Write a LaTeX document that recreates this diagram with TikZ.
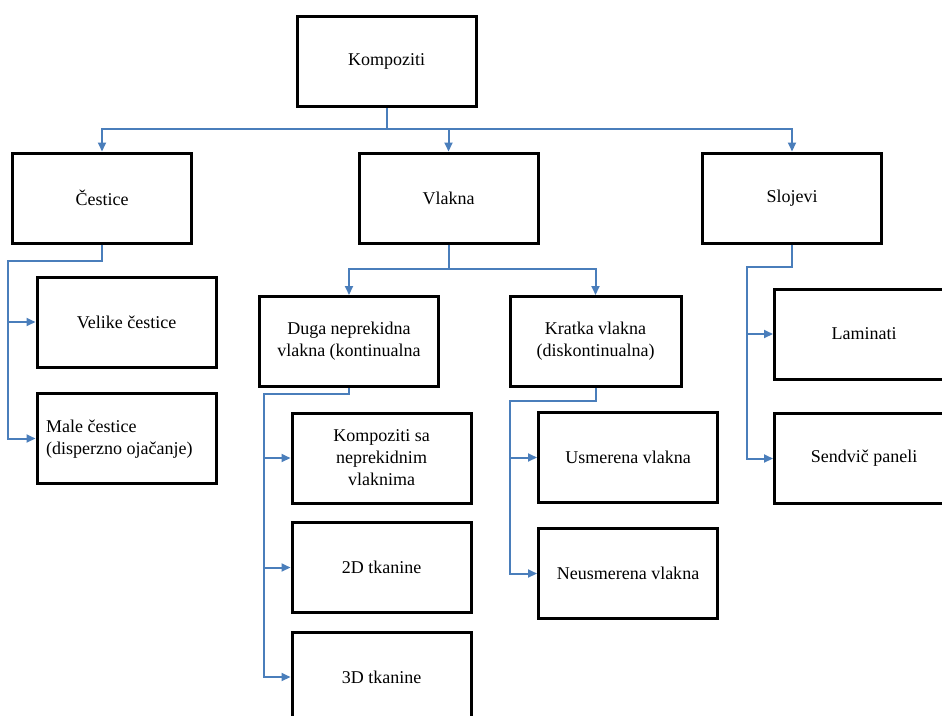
\documentclass[tikz,border=0pt]{standalone}
\usepackage{fontspec}
\setmainfont{Liberation Serif}
\usetikzlibrary{arrows.meta}
\definecolor{linkblue}{HTML}{4A7EBB}
\begin{document}
\begin{tikzpicture}[x=1pt,y=-1pt,
  box/.style={draw=black,line width=3pt,rectangle,minimum width=179pt,minimum height=90pt,
    inner sep=2pt,align=center,font=\fontsize{18}{22}\selectfont},
  conn/.style={draw=linkblue,line width=2pt},
  arr/.style={conn,-{Triangle[length=9pt,width=8pt]}}]
\useasboundingbox (0,0) rectangle (942,715);
\clip (0,0) rectangle (942,715);
% nodes
\node[box] (komp) at (386.5,61.5) {Kompoziti};
\node[box] (cest) at (102,198) {Čestice};
\node[box] (vlak) at (448.5,198) {Vlakna};
\node[box] (sloj) at (792,198) {Slojevi};
\node[box] (vel) at (126.5,322) {Velike čestice};
\node[box] (male) at (126.5,438.5) {};
\node[align=left,anchor=west,inner sep=0pt,font=\fontsize{18}{22}\selectfont] (maletxt) at (46,439) {Male čestice\\(disperzno ojačanje)};
\node[box] (duga) at (349,341.5) {Duga neprekidna\\vlakna (kontinualna};
\node[box,minimum width=171pt] (krat) at (595.5,341.5) {Kratka vlakna\\(diskontinualna)};
\node[box] (ksa) at (381.5,458) {Kompoziti sa\\neprekidnim\\vlaknima};
\node[box] (d2) at (381.5,567.5) {2D tkanine};
\node[box] (d3) at (381.5,677) {3D tkanine};
\node[box] (usm) at (628,457.5) {Usmerena vlakna};
\node[box] (neusm) at (628,573.5) {Neusmerena vlakna};
\node[box] (lam) at (864,334) {Laminati};
\node[box] (send) at (864,458.5) {Sendvič paneli};
% junction coordinates
\coordinate (kbus) at (386.5,129);
\coordinate (cbus) at (8,261);
\coordinate (vbus) at (448.5,269);
\coordinate (dbus) at (264,394);
\coordinate (krbus) at (510,401);
\coordinate (sbus) at (747,267);
% connectors
\draw[conn] (komp.south) -- (kbus);
\draw[arr] (kbus) -| (cest.north);
\draw[arr] (kbus) -| (vlak.north);
\draw[arr] (kbus) -| (sloj.north);
\draw[arr] (cest.south) |- (cbus) |- (male.west);
\draw[arr] (cbus |- vel.west) -- (vel.west);
\draw[conn] (vlak.south) -- (vbus);
\draw[arr] (vbus) -| (duga.north);
\draw[arr] (vbus) -| (krat.north);
\draw[arr] (duga.south) |- (dbus) |- (d3.west);
\draw[arr] (dbus |- ksa.west) -- (ksa.west);
\draw[arr] (dbus |- d2.west) -- (d2.west);
\draw[arr] (krat.south) |- (krbus) |- (neusm.west);
\draw[arr] (krbus |- usm.west) -- (usm.west);
\draw[arr] (sloj.south) |- (sbus) |- (send.west);
\draw[arr] (sbus |- lam.west) -- (lam.west);
\end{tikzpicture}
\end{document}
